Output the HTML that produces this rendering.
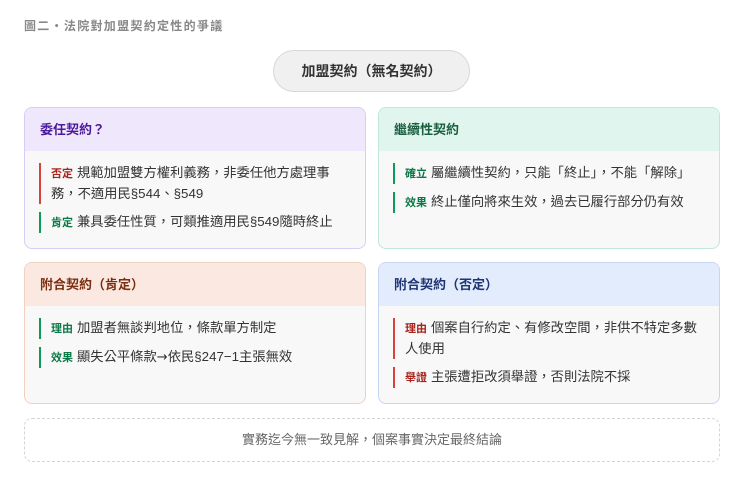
<!DOCTYPE html>
<html><head><meta charset="utf-8"><style>
*{box-sizing:border-box;margin:0;padding:0}
body{width:740px;height:487px;background:#fff;font-family:"Liberation Sans","Noto Sans CJK TC",sans-serif;position:relative;overflow:hidden;color:#333}
.t{position:absolute;left:24px;top:17px;font-size:12px;font-weight:bold;color:#888;letter-spacing:1.3px}
.pill{position:absolute;left:273px;top:50px;width:197px;height:42px;border:1px solid #d8d8d8;background:#f0f0f0;border-radius:21px;text-align:center;line-height:40px;font-size:14px;font-weight:bold;color:#333}
.card{position:absolute;width:342px;height:142px;border:1.5px solid;border-radius:8px;overflow:hidden;background:#f8f8f8}
.hd{height:43px;padding-left:15px;line-height:43px;font-size:13px;font-weight:bold}
.bd{padding:12px 4px 0 14px}
.it{border-left:2.5px solid;padding-left:10px;font-size:13.3px;line-height:20px;margin-bottom:8px;color:#333;white-space:nowrap}
.it b{font-size:11px;margin-right:4px}
.r{border-color:#d9423b}.r b{color:#a8231c}
.g{border-color:#0f9a5a}.g b{color:#0b7a47}
.ar{font-family:"DejaVu Sans",sans-serif;font-size:13px}
.foot{position:absolute;left:24px;top:418px;width:696px;height:44px;border:1.5px dashed #d4d4d4;border-radius:8px;text-align:center;line-height:42px;font-size:13px;color:#666}
</style></head><body>
<div class="t">圖二・法院對加盟契約定性的爭議</div>
<div class="pill">加盟契約（無名契約）</div>
<div class="card" style="left:24px;top:107px;border-color:#d9cdf6">
<div class="hd" style="background:#efe8fd;color:#4b1a9b">委任契約？</div>
<div class="bd"><div class="it r"><b>否定</b>規範加盟雙方權利義務，非委任他方處理事<br>務，不適用民§544、§549</div>
<div class="it g"><b>肯定</b>兼具委任性質，可類推適用民§549隨時終止</div></div></div>
<div class="card" style="left:378px;top:107px;border-color:#bfe8d8">
<div class="hd" style="background:#e0f5ee;color:#1a5e40">繼續性契約</div>
<div class="bd"><div class="it g"><b>確立</b>屬繼續性契約，只能「終止」，不能「解除」</div>
<div class="it g"><b>效果</b>終止僅向將來生效，過去已履行部分仍有效</div></div></div>
<div class="card" style="left:24px;top:262px;border-color:#f2d0c0">
<div class="hd" style="background:#fbe9e1;color:#7a2e12">附合契約（肯定）</div>
<div class="bd"><div class="it g"><b>理由</b>加盟者無談判地位，條款單方制定</div>
<div class="it g"><b>效果</b>顯失公平條款<span class="ar">→</span>依民§247−1主張無效</div></div></div>
<div class="card" style="left:378px;top:262px;border-color:#c5d6f5">
<div class="hd" style="background:#e3ecfc;color:#1e3475">附合契約（否定）</div>
<div class="bd"><div class="it r"><b>理由</b>個案自行約定、有修改空間，非供不特定多數<br>人使用</div>
<div class="it r"><b>舉證</b>主張遭拒改須舉證，否則法院不採</div></div></div>
<div class="foot">實務迄今無一致見解，個案事實決定最終結論</div>
</body></html>
